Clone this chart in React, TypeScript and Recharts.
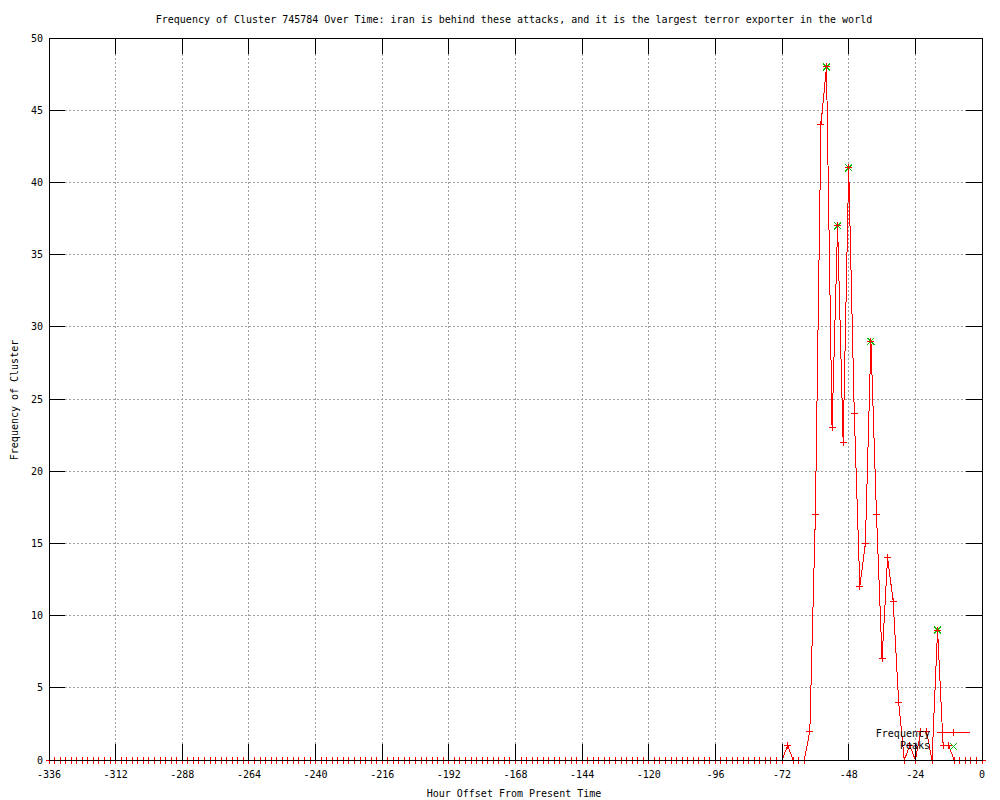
import React from 'react';
import { LineChart, Line, XAxis, YAxis, CartesianGrid, Legend } from 'recharts';

const TITLE =
  'Frequency of Cluster 745784 Over Time: iran is behind these attacks, and it is the largest terror exporter in the world';
const X_LABEL = 'Hour Offset From Present Time';
const Y_LABEL = 'Frequency of Cluster';
const FREQ_NAME = 'Frequency';
const PEAK_NAME = 'Peaks';

// hour offsets (categories)
const hours = [
  -336, -334, -332, -330, -328, -326, -324, -322, -320, -318, -316, -314,
  -312, -310, -308, -306, -304, -302, -300, -298, -296, -294, -292, -290,
  -288, -286, -284, -282, -280, -278, -276, -274, -272, -270, -268, -266,
  -264, -262, -260, -258, -256, -254, -252, -250, -248, -246, -244, -242,
  -240, -238, -236, -234, -232, -230, -228, -226, -224, -222, -220, -218,
  -216, -214, -212, -210, -208, -206, -204, -202, -200, -198, -196, -194,
  -192, -190, -188, -186, -184, -182, -180, -178, -176, -174, -172, -170,
  -168, -166, -164, -162, -160, -158, -156, -154, -152, -150, -148, -146,
  -144, -142, -140, -138, -136, -134, -132, -130, -128, -126, -124, -122,
  -120, -118, -116, -114, -112, -110, -108, -106, -104, -102, -100, -98,
  -96, -94, -92, -90, -88, -86, -84, -82, -80, -78, -76, -74,
  -72, -70, -68, -66, -64, -62, -60, -58, -56, -54, -52, -50,
  -48, -46, -44, -42, -40, -38, -36, -34, -32, -30, -28, -26,
  -24, -22, -20, -18, -16, -14, -12, -10, -8, -6, -4, -2,
  0,
];

// frequency series
const frequency = [
  0, 0, 0, 0, 0, 0, 0, 0, 0, 0, 0, 0,
  0, 0, 0, 0, 0, 0, 0, 0, 0, 0, 0, 0,
  0, 0, 0, 0, 0, 0, 0, 0, 0, 0, 0, 0,
  0, 0, 0, 0, 0, 0, 0, 0, 0, 0, 0, 0,
  0, 0, 0, 0, 0, 0, 0, 0, 0, 0, 0, 0,
  0, 0, 0, 0, 0, 0, 0, 0, 0, 0, 0, 0,
  0, 0, 0, 0, 0, 0, 0, 0, 0, 0, 0, 0,
  0, 0, 0, 0, 0, 0, 0, 0, 0, 0, 0, 0,
  0, 0, 0, 0, 0, 0, 0, 0, 0, 0, 0, 0,
  0, 0, 0, 0, 0, 0, 0, 0, 0, 0, 0, 0,
  0, 0, 0, 0, 0, 0, 0, 0, 0, 0, 0, 0,
  0, 1, 0, 0, 0, 2, 17, 44, 48, 23, 37, 22,
  41, 24, 12, 15, 29, 17, 7, 14, 11, 4, 0, 1,
  0, 2, 2, 0, 9, 1, 1, 0, 0, 0, 0, 0,
  0,
];

// peaks series
const peakHours = [-56, -52, -48, -40, -16];
const peakValues = [48, 37, 41, 29, 9];

const xTicks = [-336, -312, -288, -264, -240, -216, -192, -168, -144, -120, -96, -72, -48, -24, 0];
const yTicks = [0, 5, 10, 15, 20, 25, 30, 35, 40, 45, 50];

const data = hours.map((h, i) => {
  const pi = peakHours.indexOf(h);
  return { hour: h, frequency: frequency[i], peak: pi >= 0 ? peakValues[pi] : null };
});

const W = 992;
const H = 792;
const M_TOP = 30;
const M_RIGHT = 18;
const Y_W = 41;
const X_H = 40;
const PLOT_LEFT = Y_W;
const PLOT_RIGHT = W - M_RIGHT;
const PLOT_TOP = M_TOP;
const PLOT_BOTTOM = H - X_H;
const TICK = 16;
const FONT = '"DejaVu Sans Mono", monospace';
const RED = '#ff0000';
const GREEN = '#00c000';

const XTick = (p: any) => {
  const { x, y, payload } = p;
  return (
    <g>
      <line x1={x} x2={x} y1={y} y2={y - TICK} stroke="#000" />
      <line x1={x} x2={x} y1={PLOT_TOP} y2={PLOT_TOP + TICK} stroke="#000" />
      <text x={x} y={y + 17.5} textAnchor="middle" fontFamily={FONT} fontSize={10} fill="#000">
        {String(payload.value)}
      </text>
    </g>
  );
};

const YTick = (p: any) => {
  const { x, y, payload } = p;
  return (
    <g>
      <line x1={x} x2={x + TICK} y1={y} y2={y} stroke="#000" />
      <line x1={PLOT_RIGHT - TICK} x2={PLOT_RIGHT} y1={y} y2={y} stroke="#000" />
      <text x={x - 6} y={y + 3.5} textAnchor="end" fontFamily={FONT} fontSize={10} fill="#000">
        {String(payload.value)}
      </text>
    </g>
  );
};

const renderPlus = (p: any) => {
  const { cx, cy, index } = p;
  if (cx == null || cy == null || p.value == null) return <g key={'f' + index} />;
  return (
    <path
      key={'f' + index}
      d={`M${cx - 3.5},${cy}H${cx + 3.5}M${cx},${cy - 3.5}V${cy + 3.5}`}
      stroke={RED}
      strokeWidth={1}
      fill="none"
    />
  );
};

const renderCross = (p: any) => {
  const { cx, cy, index } = p;
  if (cx == null || cy == null || p.value == null) return <g key={'p' + index} />;
  return (
    <path
      key={'p' + index}
      d={`M${cx - 3.5},${cy - 3.5}L${cx + 3.5},${cy + 3.5}M${cx - 3.5},${cy + 3.5}L${cx + 3.5},${cy - 3.5}`}
      stroke={GREEN}
      strokeWidth={1}
      fill="none"
    />
  );
};

const renderLegend = () => (
  <svg width={120} height={30} style={{ display: 'block', overflow: 'visible' }}>
    <text x={62} y={10.5} textAnchor="end" fontFamily={FONT} fontSize={10} fill="#000">
      {FREQ_NAME}
    </text>
    <line x1={69} x2={102} y1={6.5} y2={6.5} stroke={RED} />
    <path d="M82,6.5H89M85.5,3V10" stroke={RED} fill="none" />
    <text x={62} y={23} textAnchor="end" fontFamily={FONT} fontSize={10} fill="#000">
      {PEAK_NAME}
    </text>
    <path d="M82,17L89,24M82,24L89,17" stroke={GREEN} fill="none" />
  </svg>
);

export default function App() {
  return (
    <div style={{ position: 'relative', width: W, height: H, shapeRendering: 'crispEdges' as any }}>
      <LineChart
        width={W}
        height={H}
        data={data}
        margin={{ top: M_TOP, right: M_RIGHT, bottom: 0, left: 0 }}
      >
        <CartesianGrid stroke="#a0a0a0" strokeDasharray="2 2" />
        <XAxis
          dataKey="hour"
          type="number"
          domain={[-336, 0]}
          ticks={xTicks}
          interval={0}
          height={X_H}
          tickSize={0}
          tickMargin={0}
          axisLine={false}
          tickLine={false}
          tick={XTick}
        />
        <YAxis
          type="number"
          domain={[0, 50]}
          ticks={yTicks}
          interval={0}
          width={Y_W}
          tickSize={0}
          tickMargin={0}
          axisLine={false}
          tickLine={false}
          tick={YTick}
        />
        <Line
          dataKey="peak"
          name={PEAK_NAME}
          stroke="none"
          dot={renderCross}
          activeDot={false}
          isAnimationActive={false}
        />
        <Line
          dataKey="frequency"
          name={FREQ_NAME}
          type="linear"
          stroke={RED}
          strokeWidth={1}
          dot={renderPlus}
          activeDot={false}
          isAnimationActive={false}
        />
        <Legend
          layout="horizontal"
          verticalAlign="middle"
          align="center"
          content={renderLegend}
          wrapperStyle={{ position: 'absolute', left: 860, top: 718, width: 120, height: 30, margin: 0, padding: 0 }}
        />
      </LineChart>
      <svg
        width={W}
        height={H}
        style={{ position: 'absolute', left: 0, top: 0, pointerEvents: 'none' }}
      >
        <rect
          x={PLOT_LEFT}
          y={PLOT_TOP}
          width={PLOT_RIGHT - PLOT_LEFT}
          height={PLOT_BOTTOM - PLOT_TOP}
          fill="none"
          stroke="#000"
          strokeWidth={1}
        />
        <text x={506} y={15.3} textAnchor="middle" fontFamily={FONT} fontSize={10} fill="#000">
          {TITLE}
        </text>
        <text x={506} y={788.5} textAnchor="middle" fontFamily={FONT} fontSize={10} fill="#000">
          {X_LABEL}
        </text>
        <text
          transform="translate(9.5,392) rotate(-90)"
          textAnchor="middle"
          fontFamily={FONT}
          fontSize={10}
          fill="#000"
        >
          {Y_LABEL}
        </text>
      </svg>
    </div>
  );
}
